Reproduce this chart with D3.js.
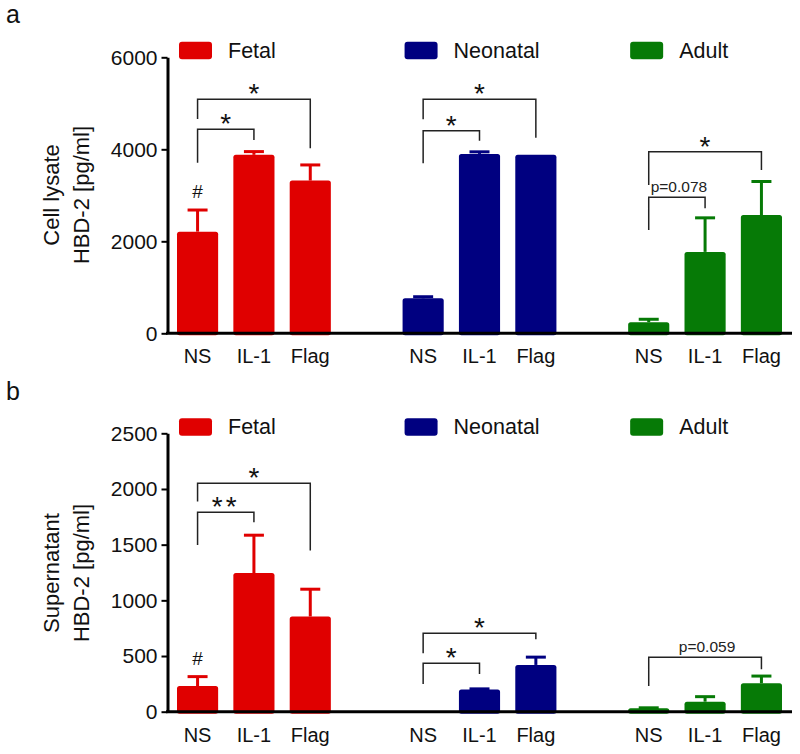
<!DOCTYPE html>
<html>
<head>
<meta charset="utf-8">
<script src="https://cdn.jsdelivr.net/npm/d3@7"></script>
<style>
  html, body { margin: 0; padding: 0; background: #fff; }
  svg { display: block; font-family: "Liberation Sans", Arial, sans-serif; }
</style>
</head>
<body>
<svg id="chart" width="800" height="754"></svg>
<script>
// ---------- data ----------
const groups = ["Fetal", "Neonatal", "Adult"];
const treatments = ["NS", "IL-1", "Flag"];
const groupColors = ["#e00000", "#000080", "#067a06"];

// Panel a: cell lysate HBD-2 [pg/ml]
const lysateMean = [[2210, 3880, 3320], [760, 3900, 3880], [240, 1770, 2570]];
const lysateErr  = [[470, 70, 340], [35, 45, 0], [65, 740, 730]];
const lysateTicks = [0, 2000, 4000, 6000];
const lysateBrackets = [
  { group: "Fetal",    to: "Flag", line: 5087, leftEnd: 4659, rightEnd: 4022, label: "*" },
  { group: "Fetal",    to: "IL-1", line: 4435, leftEnd: 3709, rightEnd: 4202, label: "*" },
  { group: "Neonatal", to: "Flag", line: 5087, leftEnd: 4652, rightEnd: 4252, label: "*" },
  { group: "Neonatal", to: "IL-1", line: 4404, leftEnd: 3696, rightEnd: 4187, label: "*" },
  { group: "Adult",    to: "Flag", line: 3948, leftEnd: 3224, rightEnd: 3550, label: "*" },
  { group: "Adult",    to: "IL-1", line: 2957, leftEnd: 2246, rightEnd: 2717, label: "p=0.078" }
];
const lysateHash = [{ group: "Fetal", treatment: "NS" }];

// Panel b: supernatant HBD-2 [pg/ml]
const superMean = [[230, 1245, 855], [0, 200, 420], [30, 90, 255]];
const superErr  = [[85, 340, 245], [0, 5, 70], [5, 45, 65]];
const superTicks = [0, 500, 1000, 1500, 2000, 2500];
const superBrackets = [
  { group: "Fetal",    to: "Flag", line: 2052, leftEnd: 1887, rightEnd: 1447, label: "*" },
  { group: "Fetal",    to: "IL-1", line: 1792, leftEnd: 1498, rightEnd: 1702, label: "**" },
  { group: "Neonatal", to: "Flag", line: 704,  leftEnd: 525,  rightEnd: 650,  label: "*" },
  { group: "Neonatal", to: "IL-1", line: 435,  leftEnd: 249,  rightEnd: 339,  label: "*" },
  { group: "Adult",    to: "Flag", line: 489,  leftEnd: 231,  rightEnd: 381,  label: "p=0.059" }
];
const superHash = [{ group: "Fetal", treatment: "NS" }];

// ---------- layout ----------
const svg = d3.select("#chart");
const axisX = 167.5;

const xGroup = d3.scaleBand().domain(groups).range([177, 782]).paddingInner(0.318).paddingOuter(0);
const xTreat = d3.scaleBand().domain(treatments).range([0, xGroup.bandwidth()]).paddingInner(0.27).paddingOuter(0);
const cx = (g, t) => xGroup(g) + xTreat(t) + xTreat.bandwidth() / 2;

function drawPanel(cfg) {
  const y = d3.scaleLinear().domain([0, cfg.ticks[cfg.ticks.length - 1]]).range([cfg.bottom, cfg.top]);
  const g = svg.append("g");

  // panel label
  g.append("text").attr("x", 6).attr("y", cfg.labelY).attr("font-size", 25).attr("fill", "#111").text(cfg.panelLabel);

  // y axis label (two lines, rotated)
  const midY = cfg.labelMid;
  cfg.yLabel.forEach((line, i) => {
    const bx = 59 + i * 30;
    g.append("text")
      .attr("transform", `translate(${bx},${midY}) rotate(-90)`)
      .attr("text-anchor", "middle")
      .attr("font-size", 22)
      .attr("fill", "#111")
      .text(line);
  });

  // bars
  const flat = [];
  groups.forEach((grp, gi) => treatments.forEach((t, ti) => {
    flat.push({ grp, t, gi, v: cfg.mean[gi][ti], e: cfg.err[gi][ti] });
  }));

  // error bars
  const eb = g.append("g");
  flat.filter(d => d.e > 0).forEach(d => {
    const x = cx(d.grp, d.t);
    eb.append("line").attr("x1", x).attr("x2", x).attr("y1", y(d.v)).attr("y2", y(d.v + d.e))
      .attr("stroke", groupColors[d.gi]).attr("stroke-width", 3);
    eb.append("line").attr("x1", x - 10).attr("x2", x + 10).attr("y1", y(d.v + d.e)).attr("y2", y(d.v + d.e))
      .attr("stroke", groupColors[d.gi]).attr("stroke-width", 3);
  });

  g.append("g").selectAll("rect").data(flat.filter(d => d.v > 0)).join("rect")
    .attr("x", d => xGroup(d.grp) + xTreat(d.t))
    .attr("width", xTreat.bandwidth())
    .attr("y", d => y(d.v))
    .attr("height", d => y(0) - y(d.v) + 2)
    .attr("rx", 2.5)
    .attr("fill", d => groupColors[d.gi]);

  // y axis
  const ax = g.append("g").attr("transform", `translate(${axisX},0)`)
    .call(d3.axisLeft(y).tickValues(cfg.ticks).tickSize(6).tickSizeOuter(0).tickPadding(4).tickFormat(d3.format("d")));
  ax.select(".domain").attr("stroke", "#000").attr("stroke-width", 3);
  ax.selectAll(".tick line").attr("stroke", "#000").attr("stroke-width", 2);
  ax.selectAll(".tick text").attr("font-size", 21).attr("fill", "#111")
    .attr("font-family", "Liberation Sans, Arial, sans-serif");

  // baseline
  g.append("line").attr("x1", axisX - 1.5).attr("x2", 792).attr("y1", y(0)).attr("y2", y(0))
    .attr("stroke", "#000").attr("stroke-width", 3);

  // x labels
  flat.forEach(d => {
    g.append("text").attr("x", cx(d.grp, d.t)).attr("y", y(0) + 30)
      .attr("text-anchor", "middle").attr("font-size", 20).attr("fill", "#111").text(d.t);
  });

  // legend
  groups.forEach((grp, gi) => {
    const lx = xGroup(grp) + 2;
    g.append("rect").attr("x", lx).attr("y", cfg.legendY).attr("width", 33).attr("height", 17.5)
      .attr("rx", 3).attr("fill", groupColors[gi]);
    g.append("text").attr("x", lx + 49).attr("y", cfg.legendY + 16)
      .attr("font-size", 21.5).attr("fill", "#111").text(grp);
  });

  // brackets
  cfg.brackets.forEach(b => {
    const x1 = cx(b.group, "NS"), x2 = cx(b.group, b.to);
    const yl = y(b.line);
    g.append("path")
      .attr("d", `M${x1},${y(b.leftEnd)}V${yl}H${x2}V${y(b.rightEnd)}`)
      .attr("fill", "none").attr("stroke", "#222").attr("stroke-width", 1.5);
    const mx = (x1 + x2) / 2;
    if (b.label.startsWith("p")) {
      g.append("text").attr("x", mx + 2).attr("y", yl - 5).attr("text-anchor", "middle")
        .attr("font-size", 15.5).attr("fill", "#222").text(b.label);
    } else {
      g.append("text").attr("x", mx).attr("y", yl - 12 + 16).attr("text-anchor", "middle")
        .attr("font-size", 28).attr("fill", "#111")
        .attr("letter-spacing", b.label.length > 1 ? 3 : 0).text(b.label);
    }
  });

  // hash marks
  cfg.hash.forEach(h => {
    const gi = groups.indexOf(h.group), ti = treatments.indexOf(h.treatment);
    const top = cfg.mean[gi][ti] + cfg.err[gi][ti];
    g.append("text").attr("x", cx(h.group, h.treatment)).attr("y", y(top) - 12)
      .attr("text-anchor", "middle").attr("font-size", 19).attr("fill", "#111").text("#");
  });
}

drawPanel({
  panelLabel: "a", labelY: 23, labelMid: 195,
  yLabel: ["Cell lysate", "HBD-2 [pg/ml]"],
  top: 57.3, bottom: 333.3, legendY: 41.7,
  mean: lysateMean, err: lysateErr, ticks: lysateTicks,
  brackets: lysateBrackets, hash: lysateHash
});

drawPanel({
  panelLabel: "b", labelY: 400, labelMid: 573,
  yLabel: ["Supernatant", "HBD-2 [pg/ml]"],
  top: 433.3, bottom: 711.7, legendY: 418.3,
  mean: superMean, err: superErr, ticks: superTicks,
  brackets: superBrackets, hash: superHash
});
</script>
</body>
</html>
